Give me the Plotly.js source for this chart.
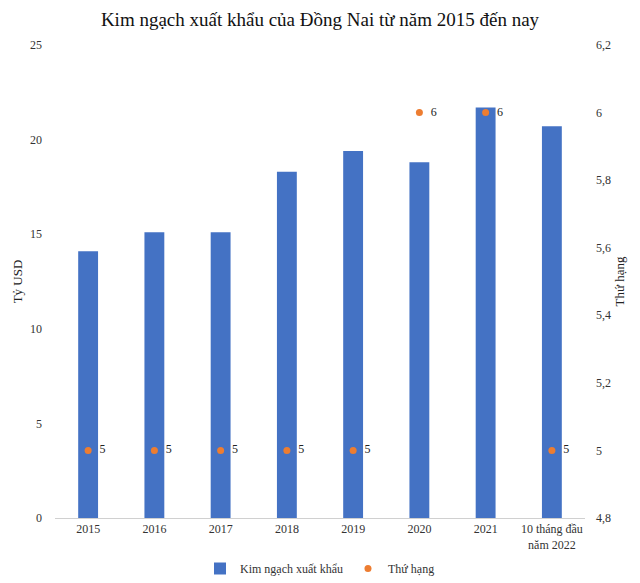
<!DOCTYPE html>
<html>
<head>
<meta charset="utf-8">
<script src="https://cdn.plot.ly/plotly-3.0.1.min.js"></script>
<style>
  html, body { margin: 0; padding: 0; background: #fff; }
  #chart { width: 640px; height: 583px; }
</style>
</head>
<body>
<div id="chart"></div>
<script>
var categories = ['2015', '2016', '2017', '2018', '2019', '2020', '2021', '10 tháng đầu<br>năm 2022'];
var exportValues = [14.1, 15.1, 15.1, 18.3, 19.4, 18.8, 21.7, 20.7];
var rankValues = [5, 5, 5, 5, 5, 6, 6, 5];

var serif = '"Liberation Serif", "Times New Roman", serif';

var bars = {
  x: categories,
  y: exportValues,
  name: 'Kim ngạch xuất khẩu',
  type: 'bar',
  width: 0.3,
  marker: { color: '#4472C4' },
};

var ranks = {
  x: categories,
  y: rankValues,
  name: 'Thứ hạng',
  type: 'scatter',
  mode: 'markers+text',
  yaxis: 'y2',
  text: rankValues.map(function (v) { return '  ' + v; }),
  textposition: 'middle right',
  textfont: { family: serif, size: 12, color: '#222' },
  marker: { color: '#ED7D31', size: 7 },
  cliponaxis: false,
};

var layout = {
  title: {
    text: 'Kim ngạch xuất khẩu của Đồng Nai từ năm 2015 đến nay',
    font: { family: serif, size: 19, color: '#111' },
    x: 0.5,
    y: 0.978,
  },
  separators: ',.',
  font: { family: serif, size: 12, color: '#333' },
  plot_bgcolor: '#fff',
  paper_bgcolor: '#fff',
  margin: { l: 55, r: 55, t: 45, b: 65 },
  showlegend: true,
  legend: {
    orientation: 'h',
    x: 0.5,
    xanchor: 'center',
    yref: 'container',
    y: 0,
    yanchor: 'bottom',
    font: { family: serif, size: 12, color: '#333' },
    itemwidth: 30,
  },
  xaxis: {
    type: 'category',
    showline: true,
    linecolor: '#d0d0d0',
    ticks: '',
    showgrid: false,
    tickfont: { family: serif, size: 12, color: '#333' },
    automargin: false,
  },
  yaxis: {
    range: [0, 25],
    dtick: 5,
    showgrid: false,
    zeroline: false,
    ticks: '',
    ticklabelstandoff: 12,
    automargin: false,
    tickfont: { family: serif, size: 12, color: '#333' },
    title: { text: 'Tỷ USD', font: { family: serif, size: 13, color: '#222' }, standoff: 4 },
  },
  yaxis2: {
    overlaying: 'y',
    side: 'right',
    range: [4.8, 6.2],
    dtick: 0.2,
    tickformat: '.1~f',
    showgrid: false,
    zeroline: false,
    ticks: '',
    ticklabelstandoff: 10,
    automargin: false,
    tickfont: { family: serif, size: 12, color: '#333' },
    title: { text: 'Thứ hạng', font: { family: serif, size: 13, color: '#222' }, standoff: 4 },
  },
};

Plotly.newPlot('chart', [bars, ranks], layout, { displayModeBar: false });
</script>
</body>
</html>
